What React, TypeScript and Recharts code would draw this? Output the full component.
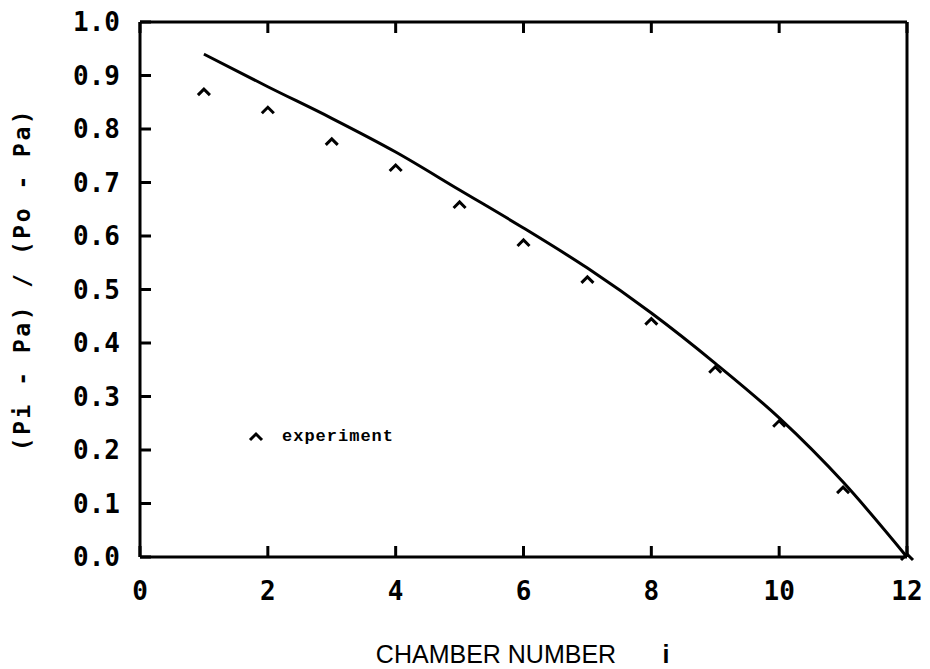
import { ComposedChart, Line, Scatter, XAxis, YAxis } from "recharts";

const chambers = [1, 2, 3, 4, 5, 6, 7, 8, 9, 10, 11, 12];
const modelRatio = [0.94, 0.879, 0.82, 0.757, 0.686, 0.615, 0.54, 0.456, 0.362, 0.26, 0.14, 0.0];
const experimentRatio = [0.869, 0.835, 0.776, 0.727, 0.658, 0.587, 0.518, 0.44, 0.35, 0.249, 0.125, 0.0];
const xTicks = [0, 2, 4, 6, 8, 10, 12];
const yTicks = [0, 0.1, 0.2, 0.3, 0.4, 0.5, 0.6, 0.7, 0.8, 0.9, 1.0];

const data = chambers.map((c, i) => ({
  chamber: c,
  model: modelRatio[i],
  experiment: experimentRatio[i],
}));

const INK = "#000";
const tickFont = "'DejaVu Sans Mono', monospace";

// eslint-disable-next-line @typescript-eslint/no-explicit-any
const BottomTick = (props: any) => {
  const { x, y, payload } = props;
  return (
    <g>
      <line x1={x} y1={y} x2={x} y2={y - 11} stroke={INK} strokeWidth={3} />
      <text
        x={x}
        y={y + 34}
        textAnchor="middle"
        dominantBaseline="central"
        fontFamily={tickFont}
        fontWeight="bold"
        fontSize={26}
        fill={INK}
      >
        {payload.value}
      </text>
    </g>
  );
};

// eslint-disable-next-line @typescript-eslint/no-explicit-any
const TopTick = (props: any) => {
  const { x, y } = props;
  return <line x1={x} y1={y} x2={x} y2={y + 11} stroke={INK} strokeWidth={3} />;
};

// eslint-disable-next-line @typescript-eslint/no-explicit-any
const LeftTick = (props: any) => {
  const { x, y, payload } = props;
  return (
    <g>
      <line x1={x} y1={y} x2={x + 11} y2={y} stroke={INK} strokeWidth={3} />
      <text
        x={x - 20}
        y={y}
        textAnchor="end"
        dominantBaseline="central"
        fontFamily={tickFont}
        fontWeight="bold"
        fontSize={26}
        fill={INK}
      >
        {Number(payload.value).toFixed(1)}
      </text>
    </g>
  );
};

// eslint-disable-next-line @typescript-eslint/no-explicit-any
const RightTick = (props: any) => {
  const { x, y } = props;
  return <line x1={x} y1={y} x2={x - 11} y2={y} stroke={INK} strokeWidth={3} />;
};

// eslint-disable-next-line @typescript-eslint/no-explicit-any
const Caret = (props: any) => {
  const { cx, cy } = props;
  if (cx == null || cy == null) return null;
  return (
    <path
      d={`M${cx - 6},${cy + 3} L${cx},${cy - 3} L${cx + 6},${cy + 3}`}
      fill="none"
      stroke={INK}
      strokeWidth={3}
    />
  );
};

// eslint-disable-next-line @typescript-eslint/no-explicit-any
const XTitle = (props: any) => {
  const { viewBox } = props;
  const cx = viewBox.x + 356;
  const cy = viewBox.y + 97;
  return (
    <g>
      <text
        x={cx}
        y={cy}
        textAnchor="middle"
        dominantBaseline="central"
        fontFamily="'Liberation Sans', Arial, sans-serif"
        fontSize={25}
        fill={INK}
      >
        CHAMBER NUMBER
      </text>
      <text
        x={cx + 170}
        y={cy}
        textAnchor="middle"
        dominantBaseline="central"
        fontFamily="'Liberation Sans', Arial, sans-serif"
        fontWeight="bold"
        fontSize={25}
        fill={INK}
      >
        i
      </text>
    </g>
  );
};

// eslint-disable-next-line @typescript-eslint/no-explicit-any
const YTitle = (props: any) => {
  const { viewBox } = props;
  const cx = viewBox.x + 22;
  const cy = viewBox.y + viewBox.height / 2 - 10;
  return (
    <text
      x={cx}
      y={cy}
      transform={`rotate(-90, ${cx}, ${cy})`}
      textAnchor="middle"
      dominantBaseline="central"
      fontFamily={tickFont}
      fontWeight="bold"
      fontSize={23}
      letterSpacing={2.5}
      fill={INK}
    >
      (Pi - Pa) / (Po - Pa)
    </text>
  );
};

export default function App() {
  return (
    <div style={{ position: "absolute", left: 0, top: 0, width: 930, height: 669, background: "#fff" }}>
      <ComposedChart width={930} height={669} data={data} margin={{ top: 0, right: 0, bottom: 0, left: 0 }}>
        <XAxis
          dataKey="chamber"
          type="number"
          domain={[0, 12]}
          ticks={xTicks}
          height={112}
          tickSize={0}
          tickMargin={0}
          tickLine={false}
          tick={<BottomTick />}
          axisLine={{ stroke: INK, strokeWidth: 3 }}
          label={<XTitle />}
        />
        <XAxis
          xAxisId="top"
          orientation="top"
          dataKey="chamber"
          type="number"
          domain={[0, 12]}
          ticks={xTicks}
          height={22}
          tickSize={0}
          tickMargin={0}
          tickLine={false}
          tick={<TopTick />}
          axisLine={{ stroke: INK, strokeWidth: 3 }}
        />
        <YAxis
          type="number"
          domain={[0, 1]}
          ticks={yTicks}
          width={140}
          tickSize={0}
          tickMargin={0}
          tickLine={false}
          tick={<LeftTick />}
          axisLine={{ stroke: INK, strokeWidth: 3 }}
          label={<YTitle />}
        />
        <YAxis
          yAxisId="right"
          orientation="right"
          type="number"
          domain={[0, 1]}
          ticks={yTicks}
          width={23}
          tickSize={0}
          tickMargin={0}
          tickLine={false}
          tick={<RightTick />}
          axisLine={{ stroke: INK, strokeWidth: 3 }}
        />
        <Line
          dataKey="model"
          type="monotone"
          stroke={INK}
          strokeWidth={3}
          dot={false}
          isAnimationActive={false}
        />
        <Scatter dataKey="experiment" shape={<Caret />} isAnimationActive={false} />
      </ComposedChart>
      <div style={{ position: "absolute", left: 248, top: 427, display: "flex", alignItems: "center" }}>
        <svg width={16} height={14}>
          <path d="M2,10 L8,4 L14,10" fill="none" stroke={INK} strokeWidth={3} />
        </svg>
        <span
          style={{
            marginLeft: 18,
            fontFamily: "'Liberation Mono', monospace",
            fontWeight: "bold",
            fontSize: 17,
            letterSpacing: 1,
            color: INK,
          }}
        >
          experiment
        </span>
      </div>
    </div>
  );
}
